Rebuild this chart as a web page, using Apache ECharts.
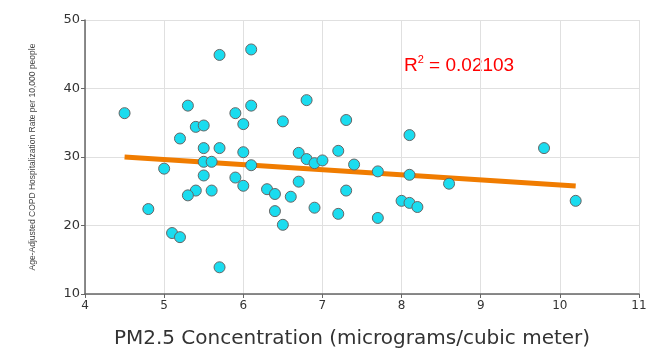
<!DOCTYPE html>
<html>
<head>
<meta charset="utf-8">
<title>PM2.5 vs COPD</title>
<script src="https://cdn.jsdelivr.net/npm/echarts@6/dist/echarts.min.js"></script>
<style>
  html, body { margin: 0; padding: 0; background: #fff; }
  #main { width: 655px; height: 349px; }
</style>
</head>
<body>
<div id="main"></div>
<script>
// PM2.5 concentration per county (x) and COPD hospitalization rate (y)
var pmValues = [4.5, 5.7, 6.1, 5.3, 6.1, 5.9, 6.0, 5.4, 5.5, 6.5, 5.2, 5.5, 5.7, 6.0,
  5.0, 5.5, 5.6, 6.1, 5.5, 5.9, 6.0, 5.4, 5.3, 5.6, 6.3, 6.4, 6.4, 6.5, 4.8, 5.1, 5.2, 5.7,
  6.8, 7.3, 8.1, 6.7, 7.2, 6.8, 6.9, 7.0, 7.4, 7.7, 8.1, 8.6, 6.7, 6.6, 7.3, 6.9, 7.2, 7.7,
  8.0, 8.1, 8.2, 9.8, 10.2];
var rateValues = [36.4, 44.9, 45.7, 37.5, 37.5, 36.4, 34.8, 34.4, 34.6, 35.2, 32.7, 31.3, 31.3, 30.7,
  28.3, 29.3, 29.3, 28.8, 27.3, 27.0, 25.8, 25.1, 24.4, 25.1, 25.3, 24.6, 22.1, 20.1, 22.4, 18.9, 18.3, 13.9,
  38.3, 35.4, 33.2, 30.6, 30.9, 29.7, 29.1, 29.5, 28.9, 27.9, 27.4, 26.1, 26.4, 24.2, 25.1, 22.6, 21.7, 21.1,
  23.6, 23.3, 22.7, 31.3, 23.6];

// linear fit line end points
var trendX = [4.5, 10.2];
var trendY = [30.0, 25.75];

var xTicks = [4, 5, 6, 7, 8, 9, 10, 11];
var yTicks = [10, 20, 30, 40, 50];

var points = pmValues.map(function (v, i) { return [v, rateValues[i]]; });
var trend = trendX.map(function (v, i) { return [v, trendY[i]]; });

var chart = echarts.init(document.getElementById('main'), null, { renderer: 'canvas' });

var option = {
  backgroundColor: '#fff',
  animation: false,
  grid: { left: 85, right: 16, top: 20, bottom: 55, containLabel: false, outerBoundsMode: 'none' },
  xAxis: {
    type: 'value',
    min: xTicks[0],
    max: xTicks[xTicks.length - 1],
    interval: 1,
    name: 'PM2.5 Concentration (micrograms/cubic meter)',
    nameLocation: 'middle',
    nameGap: 35,
    nameTextStyle: { fontFamily: 'DejaVu Sans', fontSize: 20, color: '#333', padding: [0, 20, 0, 0] },
    axisLine: { show: true, lineStyle: { color: '#666', width: 1.5 } },
    axisTick: { show: true, length: 4, lineStyle: { color: '#666' } },
    axisLabel: { fontFamily: 'DejaVu Sans', fontSize: 12, color: '#333', margin: 6 },
    splitLine: { show: true, lineStyle: { color: '#e0e0e0', width: 1 } }
  },
  yAxis: {
    type: 'value',
    min: yTicks[0],
    max: yTicks[yTicks.length - 1],
    interval: 10,
    name: 'Age-Adjusted COPD Hospitalization Rate per 10,000 people',
    nameLocation: 'middle',
    nameGap: 48,
    nameTextStyle: { fontFamily: 'Liberation Sans', fontSize: 8.5, color: '#444' },
    axisLine: { show: true, lineStyle: { color: '#666', width: 1.5 } },
    axisTick: { show: true, length: 4, lineStyle: { color: '#666' } },
    axisLabel: { fontFamily: 'DejaVu Sans', fontSize: 13, color: '#333', margin: 5 },
    splitLine: { show: true, lineStyle: { color: '#e0e0e0', width: 1 } }
  },
  graphic: [{
    type: 'text',
    left: 404,
    top: 54,
    style: {
      text: '{a|R}{s|2}{a| = 0.02103}',
      rich: {
        a: { fontFamily: 'Liberation Sans', fontSize: 19, fill: '#ff0000', verticalAlign: 'bottom' },
        s: { fontFamily: 'Liberation Sans', fontSize: 11, fill: '#ff0000', verticalAlign: 'top', padding: [0, 0, 10, 0] }
      }
    }
  }],
  series: [{
    name: 'trend',
    type: 'line',
    data: trend,
    symbol: 'none',
    z: 2,
    lineStyle: { color: '#f07c00', width: 5 }
  }, {
    name: 'counties',
    type: 'scatter',
    data: points,
    symbolSize: 11,
    z: 3,
    itemStyle: { color: '#1adcef', borderColor: '#666', borderWidth: 1, opacity: 1 }
  }]
};
chart.setOption(option);
</script>
</body>
</html>
